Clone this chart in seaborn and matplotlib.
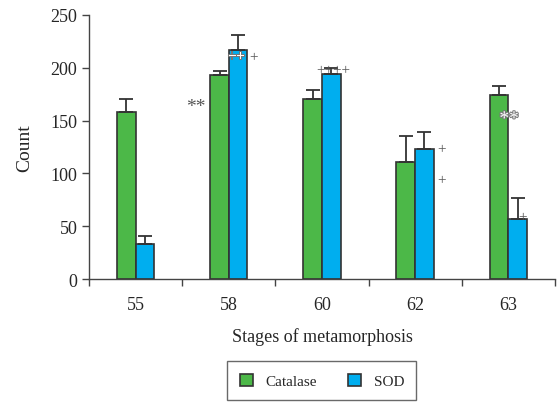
import numpy as np
import pandas as pd
import matplotlib
matplotlib.use("Agg")
import matplotlib.pyplot as plt
import matplotlib.patheffects as pe
import seaborn as sns

stages = ["55", "58", "60", "62", "63"]
catalase = [158, 193, 170, 111, 174]
sod = [33, 217, 194, 123, 57]
catalase_err = [12, 4, 9, 24, 9]
sod_err = [8, 14, 6, 16, 20]

df = pd.DataFrame({
    "stage": stages * 2,
    "count": catalase + sod,
    "enzyme": ["Catalase"] * 5 + ["SOD"] * 5,
})

sns.set_style("white")
plt.rcParams["font.family"] = ["Liberation Serif", "DejaVu Serif"]

fig = plt.figure(figsize=(5.57, 4.06), dpi=100)
ax = fig.add_axes([0.16, 0.31, 0.836, 0.651])

sns.barplot(data=df, x="stage", y="count", hue="enzyme", width=0.4,
            palette=["#4cb848", "#00aeef"], saturation=1, edgecolor="#333333",
            linewidth=1.2, errorbar=None, ax=ax)

# upward error bars from the bar tops
for cont, errs in zip(ax.containers, [catalase_err, sod_err]):
    xs = [p.get_x() + p.get_width() / 2 for p in cont.patches]
    hs = [p.get_height() for p in cont.patches]
    ax.errorbar(xs, hs, yerr=[np.zeros(len(errs)), errs], fmt="none",
                ecolor="#333333", elinewidth=1.3, capsize=5, capthick=1.3)

# significance marks
outline = [pe.withStroke(linewidth=1.5, foreground="#777777")]
gray = "#555555"
ax.text(0.65, 163, "**", fontsize=14, color=gray, ha="center", va="center")
ax.text(1.08, 210, "++", fontsize=11, color="white", ha="center", va="center",
        path_effects=outline, zorder=5)
ax.text(1.27, 210, "+", fontsize=11, color=gray, ha="center", va="center", zorder=5)
ax.text(2.12, 198, "++++", fontsize=11, color=gray, ha="center", va="center", zorder=5)
ax.text(3.28, 123, "+", fontsize=11, color=gray, ha="center", va="center")
ax.text(3.28, 94, "+", fontsize=11, color=gray, ha="center", va="center")
ax.text(4.01, 151, "**", fontsize=14, color="white", ha="center", va="center",
        path_effects=outline, zorder=5)
ax.text(4.15, 59, "+", fontsize=11, color=gray, ha="center", va="center", zorder=5)

ax.set_ylim(0, 250)
ax.set_xlim(-0.5, 4.5)
ax.set_yticks([0, 50, 100, 150, 200, 250])
ax.set_xticks(np.arange(-0.5, 5, 1), minor=True)
ax.tick_params(axis="x", which="major", length=0, labelsize=13, pad=12)
ax.tick_params(axis="x", which="minor", length=5, width=1, color="#444444", direction="out", bottom=True)
ax.tick_params(axis="y", length=5, width=1, color="#444444", direction="out", left=True, labelsize=13)
for s in ["top", "right"]:
    ax.spines[s].set_visible(False)
for s in ["left", "bottom"]:
    ax.spines[s].set_color("#444444")
    ax.spines[s].set_linewidth(1)

ax.set_xlabel("Stages of metamorphosis", fontsize=13, labelpad=10)
ax.set_ylabel("Count", fontsize=14, labelpad=12)

leg = ax.legend(loc="center", bbox_to_anchor=(0.5, -0.385), ncol=2, fontsize=11,
                frameon=True, fancybox=False, edgecolor="#444444",
                handlelength=0.9, handleheight=0.9, columnspacing=2, borderpad=0.8)
leg.get_frame().set_linewidth(1)

fig.savefig("out.png", dpi=100)
